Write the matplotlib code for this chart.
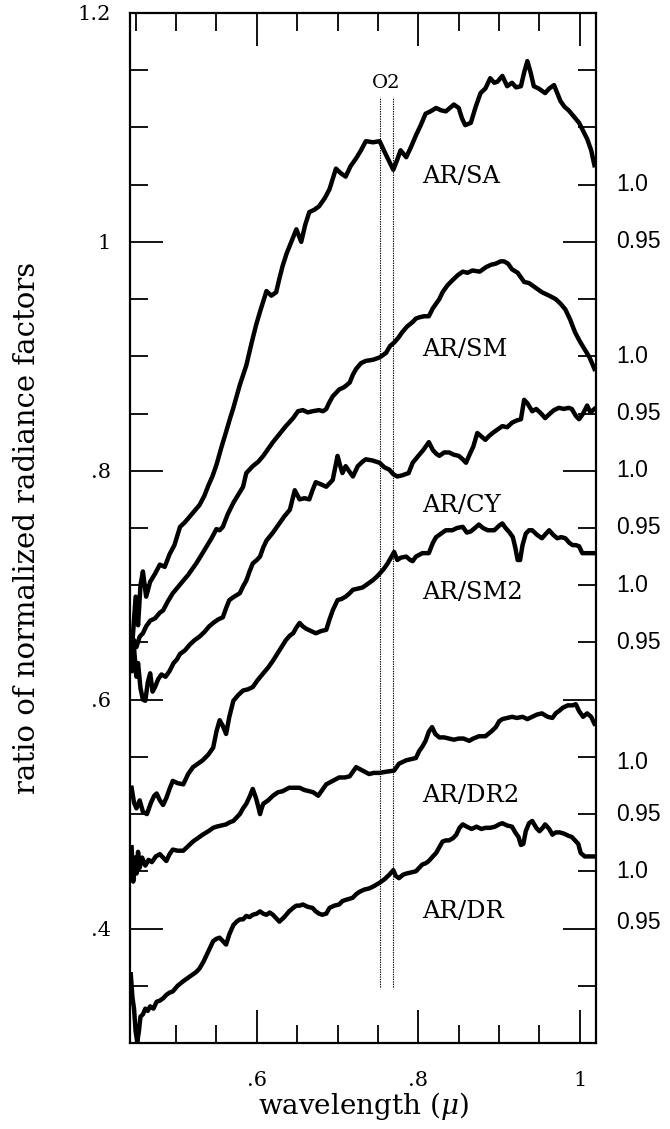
import matplotlib
matplotlib.use("Agg")
import matplotlib.pyplot as plt
from matplotlib.ticker import MultipleLocator, FixedFormatter, FixedLocator
import matplotlib.transforms as mtransforms

plt.rcParams['mathtext.fontset'] = 'dejavuserif'

# ---- data ----
sa_x = [0.445, 0.447, 0.450, 0.453, 0.456, 0.459, 0.463, 0.468, 0.474, 0.480, 0.486, 0.492, 0.498,
        0.505, 0.511, 0.517, 0.523, 0.529, 0.535, 0.540, 0.545, 0.550, 0.556, 0.562, 0.567, 0.571,
        0.579, 0.587, 0.593, 0.599, 0.604, 0.608, 0.612, 0.618, 0.624, 0.628, 0.632, 0.637, 0.641,
        0.645, 0.649, 0.655, 0.660, 0.665, 0.671, 0.677, 0.684, 0.690, 0.698, 0.704, 0.710, 0.716,
        0.723, 0.729, 0.735, 0.744, 0.752, 0.760, 0.769, 0.774, 0.778, 0.785, 0.791, 0.797, 0.803,
        0.809, 0.815, 0.822, 0.828, 0.834, 0.839, 0.844, 0.850, 0.854, 0.858, 0.865, 0.871, 0.877,
        0.883, 0.889, 0.894, 0.898, 0.904, 0.910, 0.916, 0.921, 0.927, 0.931, 0.935, 0.939, 0.943,
        0.949, 0.957, 0.962, 0.968, 0.972, 0.976, 0.981, 0.986, 0.992, 0.999, 1.004, 1.009, 1.014,
        1.018]
sa_y = [0.640, 0.660, 0.690, 0.665, 0.700, 0.712, 0.690, 0.703, 0.710, 0.718, 0.716, 0.727, 0.735,
        0.751, 0.755, 0.760, 0.765, 0.770, 0.778, 0.787, 0.795, 0.805, 0.820, 0.834, 0.846, 0.855,
        0.875, 0.892, 0.910, 0.927, 0.939, 0.948, 0.957, 0.953, 0.956, 0.968, 0.979, 0.990, 0.997,
        1.004, 1.011, 1.000, 1.015, 1.026, 1.028, 1.031, 1.038, 1.046, 1.064, 1.060, 1.057, 1.066,
        1.073, 1.080, 1.088, 1.087, 1.088, 1.076, 1.063, 1.072, 1.080, 1.074, 1.083, 1.093, 1.102,
        1.112, 1.114, 1.117, 1.115, 1.114, 1.117, 1.120, 1.117, 1.108, 1.102, 1.104, 1.118, 1.130,
        1.134, 1.143, 1.139, 1.140, 1.145, 1.136, 1.139, 1.135, 1.136, 1.148, 1.158, 1.148, 1.136,
        1.134, 1.130, 1.134, 1.137, 1.130, 1.123, 1.118, 1.115, 1.110, 1.104, 1.097, 1.090, 1.080,
        1.067]

sm_x = [0.445, 0.448, 0.451, 0.455, 0.459, 0.463, 0.468, 0.474, 0.480, 0.484, 0.490, 0.496, 0.502,
        0.509, 0.515, 0.520, 0.525, 0.532, 0.538, 0.544, 0.550, 0.554, 0.558, 0.564, 0.571, 0.577,
        0.583, 0.587, 0.595, 0.602, 0.608, 0.614, 0.620, 0.628, 0.636, 0.645, 0.651, 0.657, 0.663,
        0.669, 0.677, 0.682, 0.686, 0.690, 0.694, 0.702, 0.708, 0.715, 0.719, 0.723, 0.729, 0.735,
        0.744, 0.752, 0.760, 0.765, 0.770, 0.775, 0.780, 0.786, 0.793, 0.797, 0.801, 0.807, 0.813,
        0.818, 0.826, 0.830, 0.836, 0.843, 0.849, 0.855, 0.861, 0.867, 0.876, 0.884, 0.890, 0.896,
        0.902, 0.906, 0.911, 0.916, 0.923, 0.931, 0.937, 0.945, 0.953, 0.962, 0.970, 0.976, 0.982,
        0.988, 0.994, 1.000, 1.006, 1.012, 1.018]
sm_y = [0.640, 0.652, 0.646, 0.655, 0.658, 0.664, 0.669, 0.671, 0.676, 0.678, 0.686, 0.693, 0.698,
        0.704, 0.709, 0.714, 0.719, 0.727, 0.734, 0.741, 0.749, 0.748, 0.751, 0.762, 0.772, 0.779,
        0.786, 0.798, 0.804, 0.808, 0.813, 0.819, 0.825, 0.832, 0.839, 0.846, 0.852, 0.853, 0.851,
        0.852, 0.853, 0.852, 0.854, 0.860, 0.865, 0.871, 0.873, 0.877, 0.884, 0.889, 0.894, 0.896,
        0.897, 0.899, 0.903, 0.909, 0.912, 0.916, 0.921, 0.926, 0.930, 0.933, 0.934, 0.935, 0.935,
        0.942, 0.950, 0.956, 0.962, 0.967, 0.971, 0.974, 0.973, 0.975, 0.974, 0.978, 0.980, 0.981,
        0.983, 0.983, 0.981, 0.976, 0.973, 0.965, 0.964, 0.960, 0.956, 0.953, 0.950, 0.946, 0.941,
        0.932, 0.921, 0.913, 0.906, 0.899, 0.889]

cy_x = [0.445, 0.448, 0.451, 0.453, 0.456, 0.459, 0.462, 0.465, 0.468, 0.471, 0.474, 0.478, 0.482,
        0.487, 0.492, 0.497, 0.501, 0.505, 0.511, 0.517, 0.523, 0.529, 0.535, 0.541, 0.546, 0.552,
        0.558, 0.562, 0.566, 0.572, 0.579, 0.583, 0.587, 0.591, 0.595, 0.600, 0.604, 0.608, 0.612,
        0.620, 0.628, 0.634, 0.641, 0.647, 0.653, 0.659, 0.665, 0.669, 0.673, 0.680, 0.686, 0.690,
        0.694, 0.700, 0.703, 0.706, 0.710, 0.714, 0.719, 0.725, 0.731, 0.735, 0.743, 0.752, 0.758,
        0.764, 0.769, 0.774, 0.780, 0.788, 0.793, 0.800, 0.806, 0.813, 0.818, 0.822, 0.826, 0.832,
        0.838, 0.844, 0.850, 0.855, 0.859, 0.864, 0.868, 0.873, 0.878, 0.883, 0.887, 0.892, 0.898,
        0.904, 0.910, 0.916, 0.922, 0.927, 0.931, 0.935, 0.941, 0.946, 0.952, 0.957, 0.963, 0.968,
        0.974, 0.980, 0.986, 0.990, 0.995, 0.999, 1.004, 1.009, 1.013, 1.018]
cy_y = [0.625, 0.645, 0.620, 0.632, 0.610, 0.600, 0.599, 0.615, 0.623, 0.607, 0.611, 0.618, 0.622,
        0.620, 0.625, 0.632, 0.635, 0.640, 0.643, 0.648, 0.652, 0.655, 0.659, 0.664, 0.667, 0.670,
        0.672, 0.680, 0.687, 0.690, 0.693, 0.699, 0.704, 0.712, 0.719, 0.722, 0.725, 0.733, 0.739,
        0.746, 0.754, 0.760, 0.766, 0.783, 0.775, 0.776, 0.775, 0.783, 0.790, 0.788, 0.786, 0.789,
        0.792, 0.813, 0.805, 0.798, 0.804, 0.800, 0.795, 0.804, 0.808, 0.810, 0.809, 0.807, 0.803,
        0.801, 0.797, 0.795, 0.796, 0.798, 0.807, 0.813, 0.818, 0.825, 0.818, 0.815, 0.813, 0.816,
        0.816, 0.814, 0.813, 0.810, 0.807, 0.815, 0.821, 0.833, 0.830, 0.827, 0.830, 0.833, 0.836,
        0.839, 0.838, 0.842, 0.844, 0.845, 0.862, 0.859, 0.852, 0.854, 0.850, 0.846, 0.850, 0.853,
        0.855, 0.854, 0.855, 0.854, 0.848, 0.845, 0.850, 0.857, 0.851, 0.854]

sm2_x = [0.445, 0.448, 0.451, 0.455, 0.459, 0.464, 0.469, 0.473, 0.476, 0.480, 0.484, 0.488, 0.492,
         0.496, 0.502, 0.509, 0.515, 0.521, 0.527, 0.533, 0.540, 0.546, 0.550, 0.554, 0.558, 0.562,
         0.566, 0.571, 0.577, 0.583, 0.589, 0.595, 0.601, 0.608, 0.614, 0.620, 0.628, 0.636, 0.641,
         0.645, 0.649, 0.653, 0.657, 0.661, 0.667, 0.673, 0.680, 0.686, 0.690, 0.694, 0.700, 0.705,
         0.710, 0.715, 0.719, 0.725, 0.731, 0.737, 0.743, 0.748, 0.752, 0.757, 0.762, 0.766, 0.770,
         0.774, 0.778, 0.785, 0.790, 0.793, 0.797, 0.805, 0.813, 0.818, 0.822, 0.828, 0.834, 0.842,
         0.848, 0.855, 0.860, 0.865, 0.870, 0.875, 0.880, 0.886, 0.894, 0.900, 0.904, 0.908, 0.913,
         0.917, 0.920, 0.923, 0.926, 0.929, 0.933, 0.937, 0.941, 0.947, 0.953, 0.958, 0.962, 0.967,
         0.972, 0.977, 0.982, 0.987, 0.991, 0.995, 0.999, 1.003, 1.010, 1.018]
sm2_y = [0.523, 0.510, 0.505, 0.512, 0.502, 0.500, 0.510, 0.516, 0.518, 0.512, 0.508, 0.514, 0.522,
         0.529, 0.527, 0.526, 0.535, 0.541, 0.544, 0.547, 0.552, 0.558, 0.572, 0.582, 0.577, 0.570,
         0.585, 0.599, 0.604, 0.608, 0.609, 0.611, 0.617, 0.623, 0.628, 0.634, 0.643, 0.652, 0.656,
         0.658, 0.663, 0.667, 0.664, 0.662, 0.660, 0.658, 0.660, 0.661, 0.670, 0.678, 0.687, 0.688,
         0.690, 0.693, 0.696, 0.697, 0.698, 0.701, 0.704, 0.707, 0.710, 0.714, 0.719, 0.724, 0.729,
         0.722, 0.724, 0.725, 0.722, 0.721, 0.725, 0.728, 0.728, 0.737, 0.742, 0.745, 0.748, 0.748,
         0.750, 0.751, 0.746, 0.747, 0.750, 0.753, 0.750, 0.748, 0.748, 0.752, 0.754, 0.750, 0.746,
         0.742, 0.733, 0.722, 0.722, 0.735, 0.745, 0.748, 0.748, 0.744, 0.741, 0.745, 0.748, 0.744,
         0.741, 0.742, 0.741, 0.737, 0.735, 0.735, 0.734, 0.728, 0.728, 0.728]

dr2_x = [0.445, 0.447, 0.449, 0.451, 0.453, 0.455, 0.458, 0.462, 0.466, 0.470, 0.475, 0.480, 0.484,
         0.488, 0.492, 0.496, 0.502, 0.509, 0.515, 0.521, 0.527, 0.533, 0.540, 0.546, 0.550, 0.556,
         0.562, 0.567, 0.571, 0.575, 0.579, 0.583, 0.587, 0.591, 0.595, 0.599, 0.602, 0.604, 0.606,
         0.608, 0.614, 0.620, 0.626, 0.632, 0.640, 0.647, 0.653, 0.659, 0.665, 0.670, 0.676, 0.681,
         0.686, 0.694, 0.702, 0.709, 0.715, 0.719, 0.723, 0.731, 0.739, 0.745, 0.752, 0.760, 0.770,
         0.776, 0.785, 0.791, 0.797, 0.801, 0.805, 0.809, 0.813, 0.817, 0.821, 0.826, 0.832, 0.838,
         0.844, 0.850, 0.856, 0.863, 0.868, 0.875, 0.883, 0.890, 0.896, 0.900, 0.904, 0.910, 0.916,
         0.922, 0.929, 0.935, 0.941, 0.947, 0.953, 0.960, 0.966, 0.970, 0.974, 0.979, 0.985, 0.991,
         0.995, 0.999, 1.004, 1.009, 1.014, 1.018]
dr2_y = [0.471, 0.441, 0.462, 0.448, 0.467, 0.453, 0.462, 0.455, 0.460, 0.458, 0.463, 0.465, 0.462,
         0.459, 0.465, 0.469, 0.468, 0.468, 0.472, 0.476, 0.479, 0.482, 0.485, 0.488, 0.489, 0.490,
         0.491, 0.493, 0.494, 0.497, 0.500, 0.505, 0.509, 0.515, 0.522, 0.514, 0.506, 0.500, 0.505,
         0.509, 0.512, 0.516, 0.519, 0.520, 0.523, 0.523, 0.523, 0.521, 0.520, 0.519, 0.516, 0.521,
         0.526, 0.529, 0.532, 0.532, 0.533, 0.537, 0.541, 0.538, 0.535, 0.536, 0.536, 0.537, 0.538,
         0.544, 0.547, 0.548, 0.549, 0.555, 0.559, 0.564, 0.572, 0.576, 0.570, 0.567, 0.567, 0.566,
         0.565, 0.566, 0.566, 0.564, 0.566, 0.568, 0.568, 0.572, 0.576, 0.581, 0.583, 0.584, 0.585,
         0.584, 0.585, 0.583, 0.585, 0.587, 0.588, 0.585, 0.584, 0.588, 0.590, 0.593, 0.595, 0.595,
         0.596, 0.590, 0.585, 0.588, 0.585, 0.579]

dr_x = [0.444, 0.446, 0.448, 0.450, 0.452, 0.454, 0.456, 0.459, 0.462, 0.465, 0.468, 0.472, 0.476,
        0.480, 0.484, 0.488, 0.492, 0.496, 0.502, 0.509, 0.515, 0.521, 0.525, 0.529, 0.534, 0.538,
        0.542, 0.546, 0.550, 0.554, 0.558, 0.562, 0.566, 0.571, 0.575, 0.579, 0.583, 0.587, 0.591,
        0.595, 0.600, 0.604, 0.608, 0.612, 0.616, 0.620, 0.624, 0.628, 0.634, 0.640, 0.645, 0.649,
        0.653, 0.657, 0.663, 0.669, 0.673, 0.677, 0.681, 0.686, 0.690, 0.696, 0.702, 0.706, 0.710,
        0.715, 0.719, 0.723, 0.727, 0.733, 0.739, 0.745, 0.752, 0.758, 0.764, 0.769, 0.772, 0.776,
        0.781, 0.785, 0.791, 0.797, 0.801, 0.805, 0.809, 0.813, 0.818, 0.822, 0.826, 0.830, 0.834,
        0.838, 0.843, 0.847, 0.851, 0.855, 0.860, 0.866, 0.872, 0.878, 0.883, 0.889, 0.895, 0.900,
        0.904, 0.910, 0.916, 0.920, 0.924, 0.927, 0.930, 0.933, 0.937, 0.941, 0.946, 0.950, 0.954,
        0.957, 0.962, 0.966, 0.970, 0.975, 0.980, 0.986, 0.990, 0.994, 0.998, 1.001, 1.006, 1.012,
        1.018]
dr_y = [0.360, 0.340, 0.330, 0.310, 0.301, 0.310, 0.323, 0.325, 0.330, 0.328, 0.332, 0.330, 0.336,
        0.337, 0.339, 0.342, 0.344, 0.345, 0.350, 0.354, 0.357, 0.360, 0.362, 0.365, 0.371, 0.377,
        0.383, 0.389, 0.391, 0.392, 0.389, 0.386, 0.395, 0.403, 0.406, 0.408, 0.408, 0.411, 0.410,
        0.412, 0.413, 0.415, 0.413, 0.412, 0.414, 0.412, 0.409, 0.406, 0.410, 0.415, 0.418, 0.420,
        0.420, 0.421, 0.419, 0.418, 0.415, 0.413, 0.412, 0.413, 0.418, 0.420, 0.421, 0.424, 0.425,
        0.426, 0.427, 0.430, 0.432, 0.434, 0.435, 0.437, 0.440, 0.443, 0.447, 0.451, 0.446, 0.444,
        0.447, 0.448, 0.449, 0.450, 0.453, 0.456, 0.457, 0.459, 0.463, 0.466, 0.471, 0.476, 0.477,
        0.477, 0.479, 0.482, 0.488, 0.491, 0.489, 0.487, 0.489, 0.487, 0.488, 0.488, 0.489, 0.491,
        0.492, 0.490, 0.489, 0.484, 0.480, 0.473, 0.474, 0.485, 0.492, 0.494, 0.488, 0.485, 0.488,
        0.491, 0.487, 0.482, 0.484, 0.484, 0.483, 0.481, 0.480, 0.477, 0.474, 0.466, 0.463, 0.463,
        0.463]

curve_names = ["AR/SA", "AR/SM", "AR/CY", "AR/SM2", "AR/DR2", "AR/DR"]
label_y = [1.057, 0.906, 0.770, 0.694, 0.516, 0.415]

# right-hand scale marks for each curve
right_labels = ["1.0", "0.95", "1.0", "0.95", "1.0", "0.95",
                "1.0", "0.95", "1.0", "0.95", "1.0", "0.95"]
right_y = [1.05, 1.0, 0.9, 0.85, 0.8, 0.75, 0.7, 0.65, 0.545, 0.5, 0.45, 0.405]

o2_lines = [0.752, 0.769]

fig = plt.figure(figsize=(6.7, 11.29), dpi=100)
ax = fig.add_axes([0.194, 0.0762, 0.6956, 0.9123])

curves = [(sa_x, sa_y), (sm_x, sm_y), (cy_x, cy_y), (sm2_x, sm2_y), (dr2_x, dr2_y), (dr_x, dr_y)]
for (cx, cyv) in curves:
    ax.plot(cx, cyv, color='black', lw=3.2, solid_joinstyle='round')

for xv in o2_lines:
    ax.plot([xv, xv], [0.349, 1.127], color='black', lw=0.8, ls=(0, (1.2, 1.0)))
ax.text(sum(o2_lines) / 2, 1.139, "O2", ha='center', va='center',
        fontsize=14, family='DejaVu Serif')

for name, yv in zip(curve_names, label_y):
    ax.text(0.805, yv, name, ha='left', va='center', fontsize=17.5, family='DejaVu Serif')

trans = mtransforms.blended_transform_factory(ax.transAxes, ax.transData)
for lab, yv in zip(right_labels, right_y):
    ax.text(1.043, yv, lab, transform=trans, ha='left', va='center',
            fontsize=16.5, family='Liberation Sans')

ax.set_xlim(0.443, 1.02)
ax.set_ylim(0.3, 1.2)

ax.xaxis.set_major_locator(FixedLocator([0.6, 0.8, 1.0]))
ax.xaxis.set_major_formatter(FixedFormatter([".6", ".8", "1"]))
ax.xaxis.set_minor_locator(MultipleLocator(0.05))
ax.yaxis.set_major_locator(FixedLocator([0.4, 0.6, 0.8, 1.0, 1.2]))
ax.yaxis.set_major_formatter(FixedFormatter([".4", ".6", ".8", "1", "1.2"]))
ax.yaxis.set_minor_locator(MultipleLocator(0.05))

ax.tick_params(which='both', direction='in', top=True, right=True, width=1.3)
ax.tick_params(which='major', length=24)
ax.tick_params(which='minor', length=13)
ax.tick_params(axis='y', which='major', pad=14, labelsize=15)
ax.tick_params(axis='x', which='major', pad=20, labelsize=15)
for lab in ax.get_xticklabels() + ax.get_yticklabels():
    lab.set_family('DejaVu Serif')
for sp in ax.spines.values():
    sp.set_linewidth(1.6)

ax.set_xlabel(r"wavelength ($\mu$)", fontsize=20, family='DejaVu Serif')
ax.set_ylabel("ratio of normalized radiance factors", fontsize=21, family='DejaVu Serif')
ax.xaxis.set_label_coords(0.5, -0.046)
ax.yaxis.set_label_coords(-0.19, 0.5)

fig.savefig("out.png", dpi=100)
